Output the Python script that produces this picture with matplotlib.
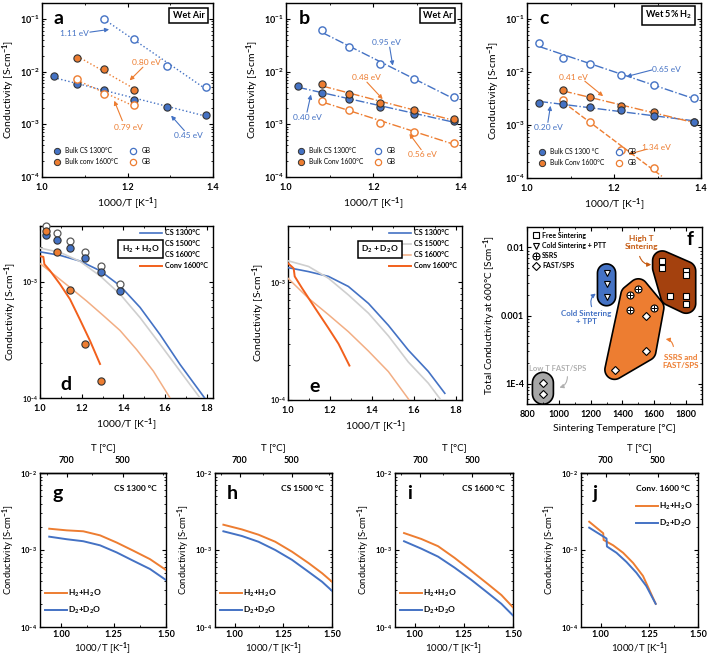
import numpy as np
import matplotlib
matplotlib.use('Agg')
import matplotlib.pyplot as plt
from matplotlib.lines import Line2D
from matplotlib.ticker import LogLocator, NullFormatter, FixedLocator, FixedFormatter, MultipleLocator

plt.rcParams.update({
    'font.family': ['Lato', 'DejaVu Sans'],
    'font.weight': 'bold',
    'mathtext.fontset': 'custom',
    'mathtext.rm': 'Lato:bold',
    'mathtext.it': 'Lato:bold:italic',
    'mathtext.bf': 'Lato:bold',
    'mathtext.default': 'rm',
    'axes.linewidth': 1.0,
})

# ---------------- data ----------------
inv_T = [1.028, 1.083, 1.145, 1.215, 1.293, 1.383]  # 700..450 C

# (a) wet air
a_bulk_cs = [8.1e-3, 5.8e-3, 4.4e-3, 2.95e-3, 2.16e-3, 1.5e-3]
a_gb_cs_x = [1.145, 1.215, 1.293, 1.383]
a_gb_cs = [1.0e-1, 4.2e-2, 1.3e-2, 5.0e-3]
a_conv_x = [1.083, 1.145, 1.215]
a_bulk_conv = [1.82e-2, 1.14e-2, 4.5e-3]
a_gb_conv = [7.1e-3, 3.7e-3, 2.3e-3]

# (b) wet Ar
b_bulk_cs = [5.3e-3, 3.9e-3, 2.99e-3, 2.16e-3, 1.58e-3, 1.15e-3]
b_x5 = [1.083, 1.145, 1.215, 1.293, 1.383]
b_bulk_conv = [5.75e-3, 3.8e-3, 2.5e-3, 1.85e-3, 1.25e-3]
b_gb_cs = [6.1e-2, 2.9e-2, 1.38e-2, 7.1e-3, 3.3e-3]
b_gb_conv = [2.77e-3, 1.85e-3, 1.06e-3, 7.2e-4, 4.4e-4]

# (c) wet 5% H2
c_bulk_cs = [2.6e-3, 2.49e-3, 2.19e-3, 1.9e-3, 1.5e-3, 1.14e-3]
c_gb_cs = [3.5e-2, 1.8e-2, 1.44e-2, 8.9e-3, 5.8e-3, 3.2e-3]
c_x5 = [1.083, 1.145, 1.215, 1.293, 1.383]
c_bulk_conv = [4.5e-3, 3.33e-3, 2.25e-3, 1.74e-3, 1.12e-3]
c_x4 = [1.083, 1.145, 1.215, 1.293]
c_gb_conv = [2.9e-3, 1.12e-3, 3.4e-4, 1.55e-4]

# (d) H2 + H2O
d_open = [3.0e-3, 2.6e-3, 2.24e-3, 1.8e-3, 1.36e-3, 9.6e-4]
d_cs_pts = [2.52e-3, 2.27e-3, 1.96e-3, 1.59e-3, 1.2e-3, 8.3e-4]
d_conv_pts_x = [1.028, 1.083, 1.145, 1.215, 1.293]
d_conv_pts = [2.7e-3, 1.8e-3, 8.4e-4, 2.9e-4, 1.4e-4]
d_cs1300_x = [1.0, 1.096, 1.192, 1.288, 1.384, 1.48, 1.576, 1.672, 1.79]
d_cs1300_y = [1.8e-3, 1.68e-3, 1.5e-3, 1.24e-3, 9.2e-4, 6.0e-4, 3.5e-4, 1.94e-4, 1.0e-4]
d_cs1500_x = [1.0, 1.096, 1.192, 1.288, 1.384, 1.48, 1.576, 1.672, 1.768]
d_cs1500_y = [1.94e-3, 1.78e-3, 1.49e-3, 1.12e-3, 7.8e-4, 4.9e-4, 2.9e-4, 1.7e-4, 1.0e-4]
d_cs1600_x = [1.0, 1.064, 1.144, 1.224, 1.304, 1.384, 1.464, 1.544, 1.624]
d_cs1600_y = [1.43e-3, 1.16e-3, 8.9e-4, 6.8e-4, 5.1e-4, 3.8e-4, 2.6e-4, 1.7e-4, 1.0e-4]
d_conv_x = [1.0, 1.016, 1.021, 1.048, 1.096, 1.144, 1.192, 1.24, 1.288]
d_conv_y = [1.65e-3, 1.63e-3, 1.41e-3, 1.24e-3, 9.5e-4, 7.05e-4, 4.7e-4, 3.1e-4, 1.96e-4]

# (e) D2 + D2O
e_cs1300_x = [1.0, 1.098, 1.193, 1.288, 1.384, 1.479, 1.574, 1.669, 1.748]
e_cs1300_y = [1.33e-3, 1.23e-3, 1.12e-3, 9.2e-4, 6.6e-4, 4.3e-4, 2.65e-4, 1.75e-4, 1.14e-4]
e_cs1500_x = [1.0, 1.098, 1.193, 1.288, 1.384, 1.479, 1.574, 1.669, 1.724]
e_cs1500_y = [1.52e-3, 1.36e-3, 1.08e-3, 7.8e-4, 5.45e-4, 3.5e-4, 2.1e-4, 1.39e-4, 1.03e-4]
e_cs1600_x = [1.0, 1.098, 1.193, 1.288, 1.384, 1.479, 1.578]
e_cs1600_y = [1.08e-3, 7.3e-4, 5.3e-4, 3.8e-4, 2.6e-4, 1.74e-4, 1.0e-4]
e_conv_x = [1.0, 1.027, 1.032, 1.067, 1.13, 1.193, 1.241, 1.293]
e_conv_y = [1.45e-3, 1.31e-3, 1.12e-3, 8.9e-4, 6.0e-4, 4.07e-4, 3.0e-4, 1.96e-4]
de_labels = ['CS 1300°C', 'CS 1500°C', 'CS 1600°C', 'Conv 1600°C']

# (f) conductivity at 600 C vs sintering temperature
free_T = [1650, 1650, 1800, 1800, 1700, 1800, 1800]
free_s = [6.4e-3, 5.0e-3, 4.5e-3, 3.95e-3, 1.94e-3, 1.96e-3, 1.5e-3]
cold_T = [1300, 1300, 1300]
cold_s = [4.2e-3, 2.9e-3, 1.9e-3]
ssrs_T = [1450, 1500, 1450, 1600]
ssrs_s = [2.0e-3, 2.49e-3, 1.2e-3, 1.3e-3]
fast_T = [1550, 1550, 1350]
fast_s = [9.8e-4, 3.0e-4, 1.6e-4]
lowT_T = [900, 900]
lowT_s = [1.02e-4, 7.1e-5]
f_legend = ['Free Sintering', 'Cold Sintering + PTT', 'SSRS', 'FAST/SPS']

# (g-j) isotope effect
g_x = [0.944, 1.027, 1.106, 1.186, 1.265, 1.344, 1.424, 1.5]
g_h2 = [1.89e-3, 1.8e-3, 1.75e-3, 1.55e-3, 1.25e-3, 9.8e-4, 7.6e-4, 5.5e-4]
g_d2 = [1.49e-3, 1.38e-3, 1.3e-3, 1.15e-3, 9.3e-4, 7.25e-4, 5.66e-4, 4.07e-4]
h_x = [0.943, 1.038, 1.123, 1.209, 1.295, 1.38, 1.449, 1.5]
h_h2 = [2.13e-3, 1.85e-3, 1.58e-3, 1.28e-3, 9.5e-4, 6.76e-4, 5.0e-4, 3.87e-4]
h_d2 = [1.75e-3, 1.52e-3, 1.28e-3, 1.0e-3, 7.45e-4, 5.2e-4, 3.87e-4, 2.95e-4]
i_x = [0.946, 1.034, 1.119, 1.203, 1.288, 1.373, 1.441, 1.5]
i_h2 = [1.66e-3, 1.39e-3, 1.12e-3, 7.9e-4, 5.35e-4, 3.6e-4, 2.6e-4, 1.8e-4]
i_d2 = [1.3e-3, 1.04e-3, 8.2e-4, 5.9e-4, 4.1e-4, 2.76e-4, 2.0e-4, 1.41e-4]
j_h2_x = [0.942, 1.014, 1.016, 1.065, 1.116, 1.167, 1.218, 1.283]
j_h2 = [2.33e-3, 1.65e-3, 1.35e-3, 1.15e-3, 9.2e-4, 6.8e-4, 4.6e-4, 2.0e-4]
j_d2_x = [0.942, 1.031, 1.033, 1.082, 1.133, 1.184, 1.235, 1.283]
j_d2 = [1.95e-3, 1.41e-3, 1.11e-3, 9.2e-4, 7.0e-4, 5.07e-4, 3.4e-4, 2.0e-4]
gj_titles = ['CS 1300 °C', 'CS 1500 °C', 'CS 1600 °C', 'Conv. 1600 °C']

# ---------------- styling ----------------
BLUE = '#4472C4'
ORANGE = '#ED7D31'
GREYL = '#CFCFCF'
LORANGE = '#F2AE84'
CONV = '#F2601C'
EDGE = '#333333'

W, H = 709, 662
fig = plt.figure(figsize=(W / 100, H / 100), dpi=100)


def add_ax(x0, y0, x1, y1):
    return fig.add_axes([x0 / W, 1 - y1 / H, (x1 - x0) / W, (y1 - y0) / H])


def style(ax, top=True, xpad=4):
    ax.tick_params(which='both', direction='in', top=top, right=True, labelsize=6.5, pad=2)
    ax.tick_params(axis='x', pad=xpad)
    ax.tick_params(which='major', length=3, width=0.8)
    ax.tick_params(which='minor', length=1.6, width=0.6)


def log_axis(ax, lo, hi):
    ax.set_yscale('log')
    ax.set_ylim(lo, hi)
    ax.yaxis.set_major_locator(LogLocator(base=10, numticks=10))
    ax.yaxis.set_minor_locator(LogLocator(base=10, subs=np.arange(2, 10), numticks=10))
    ax.yaxis.set_minor_formatter(NullFormatter())


def fitline(ax, x, y, color, ls, xr=None):
    p = np.polyfit(x, np.log10(y), 1)
    xx = np.linspace(min(x) if xr is None else xr[0], max(x) if xr is None else xr[1], 50)
    ax.plot(xx, 10 ** np.polyval(p, xx), color=color, ls=ls, lw=1.0, zorder=2)


def filled(ax, x, y, c):
    ax.plot(x, y, 'o', ms=5.2, mfc=c, mec=EDGE, mew=0.8, zorder=4)


def opened(ax, x, y, c):
    ax.plot(x, y, 'o', ms=5.2, mfc='white', mec=c, mew=1.0, zorder=4)


def arrow(ax, tail, tip, c, rad=0.0):
    ax.annotate('', xy=tip, xytext=tail,
                arrowprops=dict(arrowstyle='-|>', color=c, lw=0.8, mutation_scale=6,
                                shrinkA=0, shrinkB=0, connectionstyle=f'arc3,rad={rad}'))


def boxlabel(ax, s):
    ax.text(0.95, 0.93, s, transform=ax.transAxes, ha='right', va='center', fontsize=6.5,
            bbox=dict(boxstyle='square,pad=0.35', fc='white', ec='black', lw=1.1), zorder=6)


def abc_legend(ax, l1, l2):
    hs = [Line2D([], [], marker='o', ls='none', ms=4.5, mfc=BLUE, mec=EDGE, mew=0.7),
          Line2D([], [], marker='o', ls='none', ms=4.5, mfc=ORANGE, mec=EDGE, mew=0.7),
          Line2D([], [], marker='o', ls='none', ms=4.5, mfc='white', mec=BLUE, mew=0.9),
          Line2D([], [], marker='o', ls='none', ms=4.5, mfc='white', mec=ORANGE, mew=0.9)]
    ax.legend(hs, [l1, l2, 'GB', 'GB'], ncol=2, loc='lower left', bbox_to_anchor=(0.02, 0.04),
              frameon=False, prop=dict(size=4.8, weight='normal'), handletextpad=0.3,
              columnspacing=1.2, labelspacing=0.6, borderpad=0.2)


def finish_abc(ax):
    ax.set_xlim(1.0, 1.4)
    ax.xaxis.set_major_locator(FixedLocator([1.0, 1.2, 1.4]))
    ax.xaxis.set_major_formatter(FixedFormatter(['1.0', '1.2', '1.4']))
    ax.xaxis.set_minor_locator(MultipleLocator(0.1))
    log_axis(ax, 1e-4, 2e-1)
    ax.set_xlabel('1000/T [K$^{-1}$]', fontsize=7.5, labelpad=3)
    ax.set_ylabel('Conductivity [S·cm$^{-1}$]', fontsize=7.5, labelpad=2)
    style(ax)


def ann(ax, s, xy, c):
    ax.text(xy[0], xy[1], s, color=c, fontsize=6, ha='center', va='center', fontweight='normal')


# ---------------- (a) ----------------
ax = add_ax(42, 3, 213, 177)
fitline(ax, inv_T, a_bulk_cs, BLUE, ':')
fitline(ax, a_gb_cs_x, a_gb_cs, BLUE, ':')
fitline(ax, a_conv_x, a_bulk_conv, ORANGE, ':')
fitline(ax, a_conv_x, a_gb_conv, ORANGE, ':')
filled(ax, inv_T, a_bulk_cs, BLUE)
opened(ax, a_gb_cs_x, a_gb_cs, BLUE)
filled(ax, a_conv_x, a_bulk_conv, ORANGE)
opened(ax, a_conv_x, a_gb_conv, ORANGE)
ann(ax, '1.11 eV', (1.076, 0.052), BLUE); arrow(ax, (1.112, 0.056), (1.157, 0.063), BLUE)
ann(ax, '0.80 eV', (1.245, 0.0146), ORANGE); arrow(ax, (1.236, 0.0121), (1.205, 6.8e-3), ORANGE)
ann(ax, '0.79 eV', (1.201, 8.8e-4), ORANGE); arrow(ax, (1.188, 1.17e-3), (1.169, 2.8e-3), ORANGE)
ann(ax, '0.45 eV', (1.343, 6.1e-4), BLUE); arrow(ax, (1.333, 7.6e-4), (1.302, 1.46e-3), BLUE)
abc_legend(ax, 'Bulk CS 1300°C', 'Bulk conv 1600°C')
boxlabel(ax, 'Wet Air')
ax.text(0.07, 0.91, 'a', transform=ax.transAxes, fontsize=14, fontweight='bold', va='center')
finish_abc(ax)

# ---------------- (b) ----------------
ax = add_ax(286, 3, 461, 177)
fitline(ax, inv_T, b_bulk_cs, BLUE, '-.')
fitline(ax, b_x5, b_bulk_conv, ORANGE, '-.')
fitline(ax, b_x5, b_gb_cs, BLUE, '-.')
fitline(ax, b_x5, b_gb_conv, ORANGE, '-.')
opened(ax, b_x5, b_gb_cs, BLUE)
opened(ax, b_x5, b_gb_conv, ORANGE)
filled(ax, inv_T, b_bulk_cs, BLUE)
filled(ax, b_x5, b_bulk_conv, ORANGE)
ann(ax, '0.95 eV', (1.229, 0.035), BLUE); arrow(ax, (1.237, 0.029), (1.244, 0.013), BLUE)
ann(ax, '0.48 eV', (1.183, 7.8e-3), ORANGE); arrow(ax, (1.185, 6.3e-3), (1.221, 3.0e-3), ORANGE)
ann(ax, '0.40 eV', (1.048, 1.32e-3), BLUE); arrow(ax, (1.048, 1.7e-3), (1.057, 3.66e-3), BLUE)
ann(ax, '0.56 eV', (1.311, 2.65e-4), ORANGE); arrow(ax, (1.309, 3.3e-4), (1.282, 6.6e-4), ORANGE)
abc_legend(ax, 'Bulk CS 1300°C', 'Bulk Conv 1600°C')
boxlabel(ax, 'Wet Ar')
ax.text(0.07, 0.91, 'b', transform=ax.transAxes, fontsize=14, fontweight='bold', va='center')
finish_abc(ax)

# ---------------- (c) ----------------
ax = add_ax(527, 3, 701, 178)
fitline(ax, inv_T, c_bulk_cs, BLUE, '-.')
fitline(ax, inv_T, c_gb_cs, BLUE, '-.')
fitline(ax, c_x5, c_bulk_conv, ORANGE, '-.')
fitline(ax, c_x4, c_gb_conv, ORANGE, (0, (4, 1.5)), xr=(1.083, 1.31))
opened(ax, inv_T, c_gb_cs, BLUE)
opened(ax, c_x4, c_gb_conv, ORANGE)
filled(ax, c_x5, c_bulk_conv, ORANGE)
filled(ax, inv_T, c_bulk_cs, BLUE)
ann(ax, '0.65 eV', (1.321, 0.011), BLUE); arrow(ax, (1.287, 0.0109), (1.229, 8.2e-3), BLUE)
ann(ax, '0.41 eV', (1.107, 7.9e-3), ORANGE); arrow(ax, (1.133, 6.7e-3), (1.175, 3.5e-3), ORANGE)
ann(ax, '0.20 eV', (1.05, 9e-4), BLUE); arrow(ax, (1.048, 1.12e-3), (1.054, 2.3e-3), BLUE)
ann(ax, '1.34 eV', (1.298, 3.7e-4), ORANGE); arrow(ax, (1.276, 3.5e-4), (1.233, 2.8e-4), ORANGE)
abc_legend(ax, 'Bulk CS 1300 °C', 'Bulk Conv 1600°C')
boxlabel(ax, 'Wet 5% H$_2$')
ax.text(0.07, 0.91, 'c', transform=ax.transAxes, fontsize=14, fontweight='bold', va='center')
finish_abc(ax)


# ---------------- (d), (e) ----------------
def finish_de(ax):
    ax.set_xlim(1.0, 1.83)
    ax.xaxis.set_major_locator(FixedLocator([1.0, 1.2, 1.4, 1.6, 1.8]))
    ax.xaxis.set_major_formatter(FixedFormatter(['1.0', '1.2', '1.4', '1.6', '1.8']))
    ax.xaxis.set_minor_locator(MultipleLocator(0.1))
    log_axis(ax, 1e-4, 3e-3)
    ax.set_xlabel('1000/T [K$^{-1}$]', fontsize=7.5, labelpad=3)
    ax.set_ylabel('Conductivity [S·cm$^{-1}$]', fontsize=7.5, labelpad=2)
    style(ax)
    ax.tick_params(axis='y', labelsize=5)


def de_lines(ax, xs, ys):
    cols = [BLUE, GREYL, LORANGE, CONV]
    lws = [1.2, 1.2, 1.1, 1.4]
    hs = []
    for x, y, c, lw, lab in zip(xs, ys, cols, lws, de_labels):
        hs.append(ax.plot(x, y, color=c, lw=lw, label=lab, zorder=3)[0])
    ax.legend(hs, de_labels, loc='upper right', bbox_to_anchor=(1.0, 1.01), frameon=False,
              prop=dict(size=5.2), handlelength=3.0, handletextpad=0.4, labelspacing=0.55,
              borderaxespad=0.3)


ax = add_ax(40, 226, 213, 398)
de_lines(ax, [d_cs1300_x, d_cs1500_x, d_cs1600_x, d_conv_x],
         [d_cs1300_y, d_cs1500_y, d_cs1600_y, d_conv_y])
ax.plot(inv_T, d_open, 'o', ms=5.0, mfc='white', mec='#595959', mew=0.9, zorder=4, clip_on=False)
filled(ax, inv_T, d_cs_pts, BLUE)
filled(ax, d_conv_pts_x, d_conv_pts, ORANGE)
ax.text(0.58, 0.865, 'H$_2$ + H$_2$O', transform=ax.transAxes, ha='center', va='center', fontsize=6,
        bbox=dict(boxstyle='square,pad=0.4', fc='white', ec='black', lw=1.1), zorder=6)
ax.text(0.12, 0.08, 'd', transform=ax.transAxes, fontsize=14, fontweight='bold', va='center')
finish_de(ax)

ax = add_ax(288, 226, 462, 400)
de_lines(ax, [e_cs1300_x, e_cs1500_x, e_cs1600_x, e_conv_x],
         [e_cs1300_y, e_cs1500_y, e_cs1600_y, e_conv_y])
ax.text(0.53, 0.865, 'D$_2$ + D$_2$O', transform=ax.transAxes, ha='center', va='center', fontsize=6,
        bbox=dict(boxstyle='square,pad=0.4', fc='white', ec='black', lw=1.1), zorder=6)
ax.text(0.12, 0.08, 'e', transform=ax.transAxes, fontsize=14, fontweight='bold', va='center')
finish_de(ax)

# ---------------- (f) ----------------
FX = (800, 1900)
FY = (5e-5, 2e-2)


def convex_hull(pts):
    pts = sorted(set(pts))
    def cross(o, a, b):
        return (a[0] - o[0]) * (b[1] - o[1]) - (a[1] - o[1]) * (b[0] - o[0])
    lower, upper = [], []
    for p in pts:
        while len(lower) >= 2 and cross(lower[-2], lower[-1], p) <= 0:
            lower.pop()
        lower.append(p)
    for p in reversed(pts):
        while len(upper) >= 2 and cross(upper[-2], upper[-1], p) <= 0:
            upper.pop()
        upper.append(p)
    return lower[:-1] + upper[:-1]


def blob(ax, xs, ys, r, color):
    ly0, ly1 = np.log10(FY[0]), np.log10(FY[1])
    u = (np.asarray(xs, float) - FX[0]) / (FX[1] - FX[0])
    v = (np.log10(ys) - ly0) / (ly1 - ly0)
    th = np.linspace(0, 2 * np.pi, 48, endpoint=False)
    pts = []
    for ui, vi in zip(u, v):
        for t in th:
            pts.append((round(ui + r * np.cos(t), 6), round(vi + r * np.sin(t), 6)))
    hpts = np.array(convex_hull(pts))
    hx = FX[0] + hpts[:, 0] * (FX[1] - FX[0])
    hy = 10 ** (ly0 + hpts[:, 1] * (ly1 - ly0))
    ax.fill(hx, hy, facecolor=color, edgecolor='black', lw=1.2, zorder=1)


ax = add_ax(527, 227, 702, 404)
ax.set_yscale('log')
ax.set_xlim(*FX)
ax.set_ylim(*FY)
blob(ax, cold_T, cold_s, 0.052, '#4472C4')
blob(ax, lowT_T, lowT_s, 0.06, '#A6A6A6')
blob(ax, ssrs_T + fast_T, ssrs_s + fast_s, 0.055, '#ED7D31')
blob(ax, free_T, free_s, 0.055, '#A4410E')
mk = dict(ls='none', mfc='white', mec='black', mew=0.8, zorder=5)
ax.plot(free_T, free_s, 's', ms=4.3, **mk)
ax.plot(cold_T, cold_s, 'v', ms=5.0, **mk)
ax.plot(ssrs_T, ssrs_s, 'o', ms=5.0, **mk)
ax.plot(ssrs_T, ssrs_s, '+', ms=5.0, color='black', mew=0.7, ls='none', zorder=6)
ax.plot(fast_T, fast_s, 'D', ms=4.3, **mk)
ax.plot(lowT_T, lowT_s, 'D', ms=4.3, **mk)
lh = [Line2D([], [], marker='s', ms=4.3, mfc='white', mec='black', mew=0.8, ls='none'),
      Line2D([], [], marker='v', ms=5.0, mfc='white', mec='black', mew=0.8, ls='none'),
      (Line2D([], [], marker='o', ms=5.0, mfc='white', mec='black', mew=0.8, ls='none'),
       Line2D([], [], marker='+', ms=5.0, color='black', mew=0.7, ls='none')),
      Line2D([], [], marker='D', ms=4.3, mfc='white', mec='black', mew=0.8, ls='none')]
ax.legend(lh, f_legend, loc='upper left', frameon=False, prop=dict(size=5.0),
          handletextpad=0.3, labelspacing=0.45, borderaxespad=0.3, handlelength=1.2)
ax.text(1519, 0.0118, 'High T\nSintering', color='#C55A11', fontsize=6.0, ha='center', va='center',
        linespacing=1.1)
arrow(ax, (1508, 7.4e-3), (1581, 5.6e-3), '#C55A11', rad=0.35)
ax.text(1175, 9.4e-4, 'Cold Sintering\n+ TPT', color=BLUE, fontsize=5.8, ha='center', va='center',
        linespacing=1.1)
arrow(ax, (1206, 1.35e-3), (1232, 2.1e-3), BLUE, rad=-0.35)
ax.text(1765, 2.1e-4, 'SSRS and\nFAST/SPS', color='#ED7D31', fontsize=5.8, ha='center', va='center',
        linespacing=1.1)
arrow(ax, (1720, 3.5e-4), (1672, 4.5e-4), '#ED7D31', rad=0.35)
ax.text(995, 1.66e-4, 'Low T FAST/SPS', color='#B0B0B0', fontsize=5.5, ha='center', va='center')
arrow(ax, (1054, 1.26e-4), (1004, 8.7e-5), '#B0B0B0', rad=-0.35)
ax.text(0.93, 0.93, 'f', transform=ax.transAxes, fontsize=14, fontweight='bold', ha='center', va='center')
ax.xaxis.set_major_locator(FixedLocator([800, 1000, 1200, 1400, 1600, 1800]))
ax.xaxis.set_minor_locator(MultipleLocator(100))
ax.yaxis.set_major_locator(FixedLocator([1e-4, 1e-3, 1e-2]))
ax.yaxis.set_major_formatter(FixedFormatter(['1E-4', '0.001', '0.01']))
ax.yaxis.set_minor_locator(LogLocator(base=10, subs=np.arange(2, 10), numticks=10))
ax.yaxis.set_minor_formatter(NullFormatter())
ax.set_xlabel('Sintering Temperature [°C]', fontsize=7.5, labelpad=4)
ax.set_ylabel('Total Conductivity at 600°C [Scm$^{-1}$]', fontsize=7.2, labelpad=2)
style(ax)


# ---------------- (g-j) ----------------
def inv2c(x):
    x = np.asarray(x, float)
    with np.errstate(divide='ignore', invalid='ignore'):
        return 1000.0 / x - 273.15


def c2inv(t):
    t = np.asarray(t, float)
    with np.errstate(divide='ignore', invalid='ignore'):
        return 1000.0 / (t + 273.15)


gj_boxes = [(40, 473, 166, 627), (215, 473, 332, 627), (395, 473, 513, 627), (581, 473, 698, 627)]
gj_data = [(g_x, g_h2, g_x, g_d2), (h_x, h_h2, h_x, h_d2), (i_x, i_h2, i_x, i_d2),
           (j_h2_x, j_h2, j_d2_x, j_d2)]
for k, (box, dat, title, letter) in enumerate(zip(gj_boxes, gj_data, gj_titles, 'ghij')):
    ax = add_ax(*box)
    hx, hy, dx, dy = dat
    l1, = ax.plot(hx, hy, color=ORANGE, lw=1.4, zorder=3)
    l2, = ax.plot(dx, dy, color=BLUE, lw=1.4, zorder=3)
    ax.set_xlim(0.9, 1.5)
    ax.xaxis.set_major_locator(FixedLocator([1.0, 1.25, 1.5]))
    ax.xaxis.set_major_formatter(FixedFormatter(['1.00', '1.25', '1.50']))
    ax.xaxis.set_minor_locator(MultipleLocator(0.125))
    log_axis(ax, 1e-4, 1e-2)
    ax.set_xlabel('1000/T [K$^{-1}$]', fontsize=7, labelpad=1)
    ax.set_ylabel('Conductivity [S·cm$^{-1}$]', fontsize=6.8, labelpad=2)
    style(ax, top=False, xpad=2.5)
    ax.tick_params(axis='y', labelsize=5.5)
    sec = ax.secondary_xaxis('top', functions=(inv2c, c2inv))
    sec.xaxis.set_major_locator(FixedLocator([700, 500]))
    sec.xaxis.set_minor_locator(FixedLocator([800, 600, 400]))
    sec.tick_params(which='both', direction='in', labelsize=6.5, pad=6)
    sec.tick_params(which='major', length=3, width=0.8)
    sec.tick_params(which='minor', length=1.6, width=0.6)
    sec.set_xlabel('T [°C]', fontsize=7, labelpad=4)
    ax.text(0.93, 0.9, title, transform=ax.transAxes, ha='right', va='center', fontsize=6)
    ax.text(0.1, 0.87, letter, transform=ax.transAxes, fontsize=14, fontweight='bold', va='center')
    labs = ['H$_2$+H$_2$O', 'D$_2$+D$_2$O']
    if letter == 'j':
        ax.legend([l1, l2], labs, loc='upper right', bbox_to_anchor=(1.0, 0.85), frameon=False,
                  prop=dict(size=6), handlelength=2.6, handletextpad=0.2, labelspacing=0.7,
                  borderaxespad=0.2)
    else:
        ax.legend([l1, l2], labs, loc='lower left', bbox_to_anchor=(0.0, 0.04), frameon=False,
                  prop=dict(size=6), handlelength=2.6, handletextpad=0.2, labelspacing=0.7,
                  borderaxespad=0.2)

fig.savefig('out.png', dpi=100)
